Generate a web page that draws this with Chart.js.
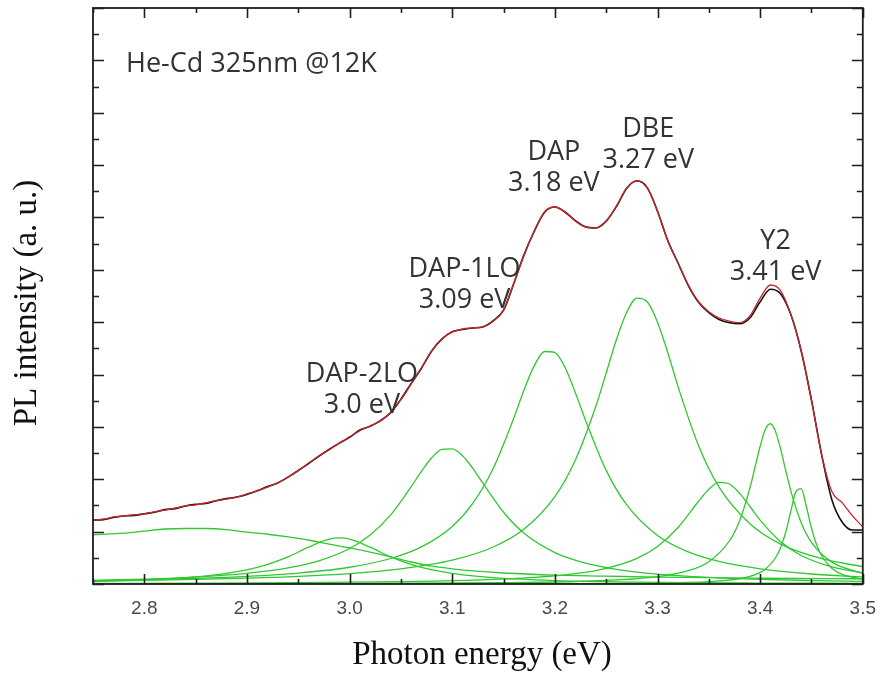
<!DOCTYPE html>
<html>
<head>
<meta charset="utf-8">
<script src="https://cdn.jsdelivr.net/npm/chart.js@4/dist/chart.umd.min.js"></script>
<style>
  html, body { margin: 0; padding: 0; background: #ffffff; }
  #wrap { width: 889px; height: 676px; }
</style>
</head>
<body>
<div id="wrap"><canvas id="pl" width="889" height="676"></canvas></div>
<script>
// Photon energy grid (eV) for the measured spectrum and the total fit
const energy = [2.75,2.76,2.77,2.78,2.79,2.80,2.81,2.82,2.83,2.84,2.85,2.86,2.87,2.88,2.89,2.90,2.91,2.92,2.93,2.94,
  2.95,2.96,2.97,2.98,2.99,3.00,3.01,3.02,3.03,3.04,3.05,3.06,3.07,3.08,3.09,3.10,3.11,3.12,3.13,3.14,
  3.15,3.16,3.17,3.18,3.19,3.20,3.21,3.22,3.23,3.24,3.25,3.26,3.27,3.28,3.29,3.30,3.31,3.32,3.33,3.34,
  3.35,3.36,3.37,3.38,3.39,3.40,3.41,3.42,3.43,3.44,3.45,3.46,3.47,3.48,3.49,3.50];

// Measured PL intensity (a.u.)
const measured = [1.22,1.23,1.27,1.30,1.31,1.34,1.37,1.42,1.44,1.49,1.52,1.54,1.59,1.63,1.66,1.71,1.78,1.86,1.93,2.04,
  2.17,2.30,2.44,2.57,2.69,2.80,2.94,3.01,3.12,3.27,3.53,3.83,4.12,4.45,4.68,4.82,4.86,4.89,4.91,5.03,
  5.23,5.74,6.29,6.74,7.10,7.20,7.10,6.94,6.82,6.80,6.93,7.21,7.56,7.70,7.57,7.12,6.56,6.13,5.70,5.38,
  5.18,5.05,4.99,4.97,5.08,5.39,5.63,5.54,5.14,4.45,3.51,2.46,1.60,1.18,1.03,1.03];

// Total fitted curve
const fitted = [1.22,1.24,1.28,1.30,1.32,1.34,1.38,1.41,1.45,1.49,1.51,1.55,1.59,1.62,1.66,1.72,1.78,1.85,1.93,2.04,
  2.16,2.31,2.44,2.56,2.69,2.81,2.93,3.02,3.11,3.28,3.52,3.82,4.13,4.45,4.68,4.81,4.87,4.89,4.91,5.02,
  5.23,5.75,6.28,6.74,7.11,7.20,7.11,6.93,6.82,6.80,6.93,7.22,7.56,7.70,7.56,7.12,6.55,6.13,5.71,5.39,
  5.20,5.08,5.02,4.99,5.12,5.46,5.71,5.60,5.14,4.45,3.51,2.46,1.76,1.55,1.30,1.09];

// Fitted components, each sampled on its own energy points
const broadE = [2.75,2.78,2.80,2.82,2.84,2.86,2.88,2.90,2.92,2.94,2.96,2.98,3.00,3.02,3.04,3.06,3.08,3.10,3.12,3.15,3.20,3.25,3.30,3.40,3.50];
const broadI = [0.94,0.97,1.01,1.05,1.06,1.06,1.04,0.99,0.95,0.90,0.84,0.76,0.69,0.61,0.52,0.42,0.34,0.29,0.25,0.21,0.17,0.15,0.13,0.11,0.10];

const dap2loE = [2.75,2.80,2.85,2.88,2.91,2.94,2.96,2.98,2.99,3.00,3.02,3.04,3.07,3.10,3.14,3.20,3.30,3.40,3.50];
const dap2loI = [0.052,0.080,0.136,0.202,0.316,0.519,0.703,0.855,0.879,0.855,0.703,0.519,0.316,0.202,0.121,0.066,0.032,0.018,0.012];

const dap1loE = [2.75,2.80,2.85,2.90,2.94,2.97,3.00,3.02,3.04,3.06,3.07,3.08,3.09,3.10,3.11,3.12,3.13,3.15,3.17,3.20,3.23,3.26,3.30,3.35,3.40,3.45,3.50];
const dap1loI = [0.069,0.093,0.132,0.203,0.306,0.441,0.677,0.935,1.32,1.86,2.15,2.41,2.57,2.58,2.45,2.21,1.92,1.37,0.967,0.600,0.398,0.280,0.188,0.125,0.088,0.066,0.051];

const dapE = [2.75,2.80,2.85,2.90,2.95,3.00,3.04,3.07,3.10,3.12,3.14,3.16,3.17,3.18,3.19,3.20,3.21,3.22,3.23,3.25,3.27,3.30,3.33,3.36,3.40,3.45,3.50];
const dapI = [0.065,0.082,0.107,0.145,0.208,0.320,0.487,0.708,1.10,1.54,2.21,3.17,3.71,4.17,4.44,4.42,4.13,3.65,3.12,2.17,1.51,0.928,0.613,0.430,0.289,0.191,0.135];

const dbeE = [2.75,2.80,2.85,2.90,2.95,3.00,3.05,3.10,3.14,3.17,3.20,3.22,3.24,3.25,3.26,3.27,3.28,3.29,3.30,3.31,3.32,3.34,3.36,3.39,3.42,3.46,3.50];
const dbeI = [0.058,0.070,0.087,0.111,0.146,0.200,0.289,0.454,0.706,1.05,1.67,2.37,3.40,4.03,4.67,5.19,5.46,5.39,5.00,4.42,3.77,2.64,1.85,1.15,0.761,0.483,0.331];

const p336E = [2.75,2.85,2.95,3.05,3.12,3.18,3.22,3.25,3.28,3.30,3.32,3.34,3.35,3.36,3.37,3.38,3.39,3.40,3.42,3.44,3.47,3.50];
const p336I = [0.012,0.017,0.026,0.045,0.073,0.125,0.197,0.298,0.488,0.716,1.08,1.58,1.81,1.94,1.91,1.73,1.48,1.22,0.808,0.545,0.326,0.213];

const y2E = [2.75,2.90,3.05,3.15,3.22,3.27,3.30,3.33,3.35,3.37,3.38,3.39,3.395,3.40,3.405,3.41,3.415,3.42,3.425,3.43,3.44,3.45,3.47,3.50];
const y2I = [0.004,0.007,0.014,0.026,0.048,0.088,0.140,0.255,0.426,0.821,1.21,1.83,2.23,2.63,2.95,3.06,2.91,2.57,2.16,1.77,1.17,0.797,0.417,0.201];

const p344E = [2.75,3.00,3.20,3.30,3.36,3.39,3.405,3.415,3.42,3.425,3.43,3.435,3.44,3.445,3.45,3.455,3.46,3.47,3.48,3.50];
const p344I = [0.001,0.002,0.006,0.019,0.058,0.145,0.283,0.501,0.698,0.995,1.40,1.77,1.82,1.48,1.07,0.749,0.534,0.298,0.185,0.090];

// Axis tick values
const xTickValues = [2.8,2.9,3.0,3.1,3.2,3.3,3.4,3.5];
const yTickValues = [0,1,2,3,4,5,6,7,8,9,10,11];

// Peak annotations
const peakNames  = ['DAP-2LO','DAP-1LO','DAP','DBE','Y2'];
const peakLabels = ['3.0 eV','3.09 eV','3.18 eV','3.27 eV','3.41 eV'];
const headerText = 'He-Cd 325nm @12K';

const pts = (xs, ys) => xs.map((x, i) => ({ x: x, y: ys[i] }));

const GREEN = '#30c830';
const components = [
  [broadE, broadI], [dap2loE, dap2loI], [dap1loE, dap1loI], [dapE, dapI],
  [dbeE, dbeI], [p336E, p336I], [y2E, y2I], [p344E, p344I]
];

const datasets = [
  { label: 'fit', data: pts(energy, fitted), borderColor: '#c8242c', borderWidth: 1.3 },
  { label: 'measured', data: pts(energy, measured), borderColor: '#111111', borderWidth: 1.6 }
].concat(components.map((c, i) => ({
  label: 'peak ' + (i + 1), data: pts(c[0], c[1]), borderColor: GREEN, borderWidth: 1.3
})));

// Label anchors in data units: [energy, intensity of the value line]
const labelAnchors = [[3.012, 3.457], [3.112, 5.462], [3.199, 7.697], [3.291, 8.136], [3.415, 5.997]];

const decorations = {
  id: 'decorations',
  afterDatasetsDraw(chart) {
    const { ctx, chartArea: a, scales } = chart;
    const xs = scales.x, ys = scales.y;
    ctx.save();

    // inward ticks on all four sides
    ctx.strokeStyle = '#1e1e1e';
    ctx.lineWidth = 1.6;
    ctx.beginPath();
    const majorLen = 10, minorLen = 5;
    xTickValues.forEach(v => {
      [[v, majorLen], [v - 0.05, minorLen]].forEach(([val, len]) => {
        if (val < xs.min || val > xs.max) return;
        const px = Math.round(xs.getPixelForValue(val)) + 0.5;
        ctx.moveTo(px, a.bottom); ctx.lineTo(px, a.bottom - len);
        ctx.moveTo(px, a.top); ctx.lineTo(px, a.top + len);
      });
    });
    yTickValues.forEach(v => {
      [[v, majorLen + 1], [v + 0.5, minorLen + 1]].forEach(([val, len]) => {
        if (val < ys.min || val > ys.max) return;
        const py = Math.round(ys.getPixelForValue(val)) + 0.5;
        ctx.moveTo(a.left, py); ctx.lineTo(a.left + len, py);
        ctx.moveTo(a.right, py); ctx.lineTo(a.right - len, py);
      });
    });
    ctx.stroke();

    // frame
    ctx.lineWidth = 1.8;
    ctx.strokeRect(a.left, a.top, a.right - a.left, a.bottom - a.top);

    // annotations
    ctx.fillStyle = '#333333';
    ctx.font = '27px "Open Sans", "Noto Sans", sans-serif';
    ctx.textBaseline = 'alphabetic';
    ctx.textAlign = 'left';
    ctx.fillText(headerText, a.left + 33, 72);
    ctx.textAlign = 'center';
    labelAnchors.forEach(([ex, iy], i) => {
      const cx = xs.getPixelForValue(ex);
      const cy = ys.getPixelForValue(iy);
      ctx.fillText(peakLabels[i], cx, cy + 10);
      ctx.fillText(peakNames[i], cx, cy - 31 + 10);
    });

    // axis titles
    ctx.fillStyle = '#111111';
    ctx.font = '33px "Liberation Serif", "Times New Roman", serif';
    ctx.textBaseline = 'middle';
    ctx.textAlign = 'center';
    ctx.fillText('Photon energy (eV)', 482, 655);
    ctx.translate(27, 303);
    ctx.rotate(-Math.PI / 2);
    ctx.fillText('PL intensity (a. u.)', 0, 0);
    ctx.restore();
  }
};

new Chart(document.getElementById('pl'), {
  type: 'line',
  data: { datasets: datasets },
  options: {
    responsive: false,
    animation: false,
    devicePixelRatio: 1,
    layout: { padding: { top: 8, right: 17, left: 0, bottom: 0 } },
    elements: {
      point: { radius: 0 },
      line: { cubicInterpolationMode: 'monotone', fill: false }
    },
    plugins: { legend: { display: false }, tooltip: { enabled: false } },
    scales: {
      x: {
        type: 'linear',
        min: 2.75,
        max: 3.5,
        grid: { display: false, drawTicks: false },
        border: { display: false },
        afterBuildTicks: s => { s.ticks = xTickValues.map(v => ({ value: v })); },
        afterFit: s => { s.height = 92; },
        ticks: {
          padding: 13,
          color: '#4a4a4a',
          font: { family: '"Liberation Sans Narrow", "Liberation Sans", Arial, sans-serif', size: 19 },
          callback: v => Number(v).toFixed(1)
        }
      },
      y: {
        type: 'linear',
        min: 0,
        max: 11,
        grid: { display: false, drawTicks: false },
        border: { display: false },
        afterBuildTicks: s => { s.ticks = yTickValues.map(v => ({ value: v })); },
        afterFit: s => { s.width = 93; },
        ticks: { display: false }
      }
    }
  },
  plugins: [decorations]
});
</script>
</body>
</html>
